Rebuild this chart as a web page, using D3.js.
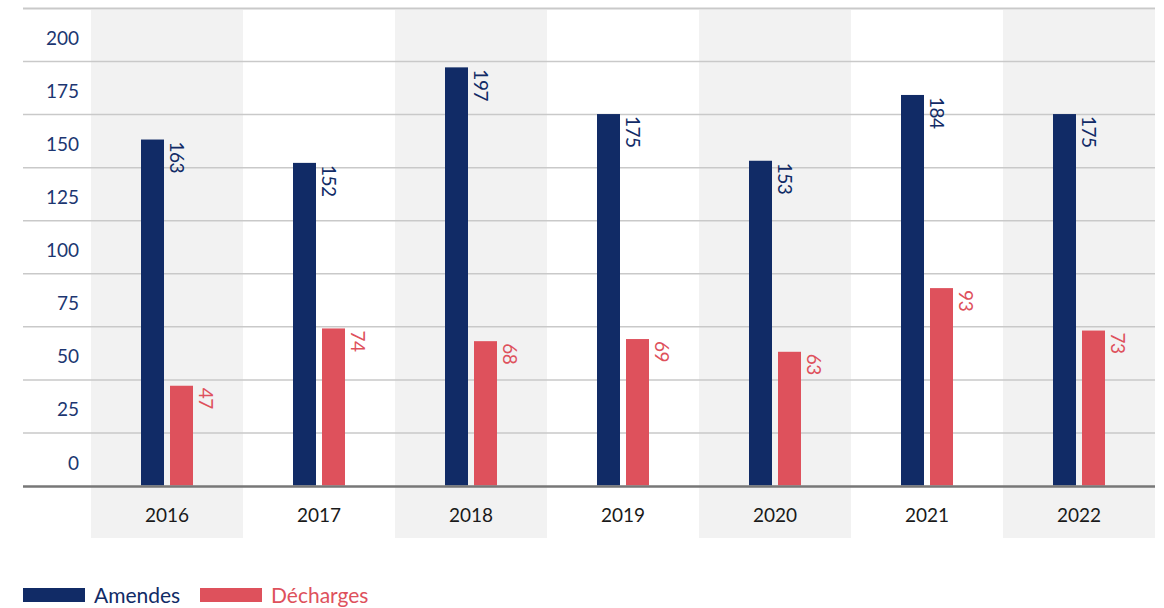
<!DOCTYPE html>
<html>
<head>
<meta charset="utf-8">
<script src="https://cdn.jsdelivr.net/npm/d3@7"></script>
<style>
  body { margin: 0; background: #fff; }
  text { font-family: "Lato", "Noto Sans", sans-serif; }
</style>
</head>
<body>
<div id="chart"></div>
<script>
(function() {
  var years = ["2016", "2017", "2018", "2019", "2020", "2021", "2022"],
      amendes = [163, 152, 197, 175, 153, 184, 175],
      decharges = [47, 74, 68, 69, 63, 93, 73],
      yTicks = [0, 25, 50, 75, 100, 125, 150, 175, 200],
      series = ["Amendes", "Décharges"];

  var navy = "#112b66", red = "#de515c";

  var width = 1164, height = 608;

  var svg = d3.select("#chart")
            .append("svg")
            .attr("width", width)
            .attr("height", height);

  var x = d3.scaleBand()
      .domain(years)
      .range([91, 1155]);

  var y = d3.scaleLinear()
      .domain([0, 200])
      .range([485.5, 61]);

  // alternating grey columns
  svg.selectAll(".band")
      .data(years.filter(function(d, i) { return i % 2 === 0; }))
      .enter()
      .append("rect")
      .attr("x", function(d) { return x(d); })
      .attr("y", 10)
      .attr("width", x.bandwidth())
      .attr("height", 528)
      .attr("fill", "#f2f2f2");

  // grid lines (top line + one per tick)
  svg.selectAll(".grid")
      .data(yTicks.slice(1).concat([225]))
      .enter()
      .append("line")
      .attr("x1", 23).attr("x2", 1155)
      .attr("y1", function(d) { return y(d) + 0.5; })
      .attr("y2", function(d) { return y(d) + 0.5; })
      .attr("stroke", "#c9c9c9")
      .attr("stroke-width", function(d) { return d === 225 ? 2 : 1.5; });

  // y labels sit between the lines
  svg.selectAll(".ylab")
      .data(yTicks)
      .enter()
      .append("text")
      .attr("x", 79)
      .attr("y", function(d) { return y(d) - 16; })
      .attr("text-anchor", "end")
      .attr("fill", "#1c3671")
      .attr("font-size", 19)
      .text(function(d) { return d; });

  var off = { Amendes: 50, "Décharges": 79 };
  var vals = { Amendes: amendes, "Décharges": decharges };
  var col = { Amendes: navy, "Décharges": red };

  series.forEach(function(s) {
    var g = svg.append("g");
    g.selectAll("rect")
        .data(vals[s])
        .enter()
        .append("rect")
        .attr("x", function(d, i) { return x(years[i]) + off[s]; })
        .attr("y", function(d) { return y(d); })
        .attr("width", 23)
        .attr("height", function(d) { return y(0) - y(d); })
        .attr("fill", col[s]);

    g.selectAll("text")
        .data(vals[s])
        .enter()
        .append("text")
        .attr("transform", function(d, i) {
          return "translate(" + (x(years[i]) + off[s] + 29) + "," + (y(d) + 2) + ") rotate(90)";
        })
        .attr("fill", col[s])
        .attr("font-size", 19)
        .attr("letter-spacing", -0.5)
        .text(function(d) { return d; });
  });

  // baseline
  svg.append("line")
      .attr("x1", 23).attr("x2", 1155)
      .attr("y1", y(0) + 1).attr("y2", y(0) + 1)
      .attr("stroke", "#777")
      .attr("stroke-width", 2.5);

  svg.selectAll(".xlab")
      .data(years)
      .enter()
      .append("text")
      .attr("x", function(d) { return x(d) + x.bandwidth() / 2; })
      .attr("y", 522)
      .attr("text-anchor", "middle")
      .attr("fill", "#1a1a1a")
      .attr("font-size", 19)
      .text(function(d) { return d; });

  // legend
  var legX = [23, 200];
  var leg = svg.selectAll(".leg")
      .data(series)
      .enter()
      .append("g")
      .attr("transform", function(d, i) { return "translate(" + legX[i] + ",588)"; });

  leg.append("rect")
      .attr("width", 62)
      .attr("height", 14)
      .attr("fill", function(d) { return col[d]; });

  leg.append("text")
      .attr("x", 71)
      .attr("y", 14.5)
      .attr("fill", function(d) { return col[d]; })
      .attr("font-size", 21)
      .text(function(d) { return d; });
})();
</script>
</body>
</html>
